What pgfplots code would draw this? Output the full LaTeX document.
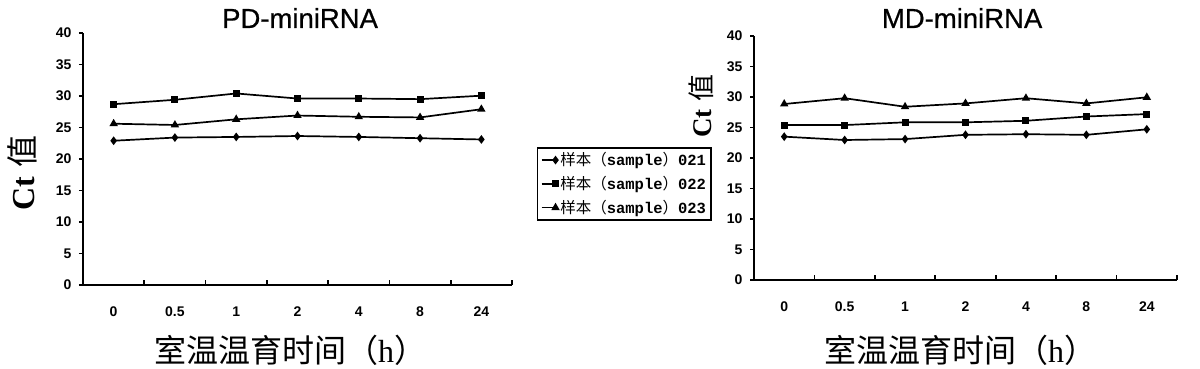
\documentclass[border=0pt]{standalone}
\usepackage{fontspec}
\usepackage{pgfplots}
\pgfplotsset{compat=1.18}
\setmainfont{Liberation Serif}
\setsansfont{Liberation Sans}
\setmonofont{Liberation Mono}
\newfontfamily\cjk{Noto Sans CJK SC}
\newfontfamily\titlefont{Liberation Sans}[FakeBold=0.6]
\begin{document}
\begin{tikzpicture}
\useasboundingbox (0pt,0pt) rectangle (1200pt,369pt);
\pgfplotsset{
  myaxis/.style={
    scale only axis,
    anchor=south west,
    xmin=0, xmax=7, ymin=0, ymax=40,
    axis x line=bottom, axis y line=left,
    axis line style={-, line width=1.8pt},
    xtick={0.5,1.5,...,6.5},
    xticklabels={0,0.5,1,2,4,8,24},
    minor xtick={1,2,...,7},
    ytick={0,5,...,40},
    major x tick style={draw=none},
    minor tick length=5pt,
    every minor tick/.style={line width=1.6pt, black},
    every major tick/.style={line width=1.6pt, black},
    major tick length=4pt,
    ytick align=outside,
    xtick align=inside,
    /pgf/number format/assume math mode=true,
    ticklabel style={font=\fontsize{14}{14}\selectfont\sffamily\bfseries},
    xticklabel style={yshift=-18pt},
    yticklabel style={xshift=-4pt},
    every axis plot/.append style={line width=1.7pt, black, mark options={solid}},
    legend image code/.code={\draw[##1,mark repeat=2,mark phase=2] plot coordinates {(0pt,0pt) (14pt,0pt)};},
  }
}
\begin{axis}[myaxis, at={(83pt,84pt)}, width=429pt, height=252pt,
  title={PD-miniRNA},
  title style={at={(axis description cs:0.506,1)}, anchor=center, yshift=9pt, font=\fontsize{27.5}{27.5}\selectfont\titlefont},
  xlabel={{\cjk 室温温育时间（}\textrm{h}{\cjk ）}},
  xlabel style={at={(axis description cs:0.483,0)}, anchor=center, inner sep=0pt, yshift=-65pt, font=\fontsize{32}{32}\selectfont},
  ylabel={\textbf{Ct}\hspace{0.3em}{\cjk 值}},
  ylabel style={at={(axis description cs:0,0.444)}, anchor=center, yshift=61pt, font=\fontsize{32}{32}\selectfont},
  legend style={at={(1.058,0.548)}, anchor=north west, draw=black, line width=1.6pt,
    font=\fontsize{15.5}{15.5}\selectfont, inner sep=3pt, row sep=5pt,
    cells={anchor=west}},
  legend cell align=left,
]
\addplot[mark=diamond*, mark size=3pt] coordinates {(0.5,22.9) (1.5,23.4) (2.5,23.5) (3.5,23.65) (4.5,23.5) (5.5,23.3) (6.5,23.1)};
\addplot[mark=square*, mark size=2.6pt] coordinates {(0.5,28.7) (1.5,29.4) (2.5,30.4) (3.5,29.6) (4.5,29.6) (5.5,29.5) (6.5,30.05)};
\addplot[mark=triangle*, mark size=3.2pt] coordinates {(0.5,25.6) (1.5,25.4) (2.5,26.3) (3.5,26.9) (4.5,26.7) (5.5,26.6) (6.5,27.9)};
\legend{{\cjk 样本（}\texttt{\bfseries sample}{\cjk ）}\texttt{\bfseries 021},
        {\cjk 样本（}\texttt{\bfseries sample}{\cjk ）}\texttt{\bfseries 022},
        {\cjk 样本（}\texttt{\bfseries sample}{\cjk ）}\texttt{\bfseries 023}}
\end{axis}
\begin{axis}[myaxis, at={(754pt,89pt)}, width=423pt, height=244pt,
  title={MD-miniRNA},
  title style={at={(axis description cs:0.492,1)}, anchor=center, yshift=12pt, font=\fontsize{27.5}{27.5}\selectfont\titlefont},
  xlabel={{\cjk 室温温育时间（}\textrm{h}{\cjk ）}},
  xlabel style={at={(axis description cs:0.487,0)}, anchor=center, inner sep=0pt, yshift=-70pt, font=\fontsize{32}{32}\selectfont},
  ylabel={\textbf{Ct}\hspace{0.3em}{\cjk 值}},
  ylabel style={at={(axis description cs:0,0.713)}, anchor=center, yshift=53pt, font=\fontsize{27}{27}\selectfont},
]
\addplot[mark=diamond*, mark size=3pt] coordinates {(0.5,23.5) (1.5,22.95) (2.5,23.1) (3.5,23.8) (4.5,23.9) (5.5,23.8) (6.5,24.7)};
\addplot[mark=square*, mark size=2.6pt] coordinates {(0.5,25.4) (1.5,25.4) (2.5,25.85) (3.5,25.85) (4.5,26.1) (5.5,26.8) (6.5,27.2)};
\addplot[mark=triangle*, mark size=3.2pt] coordinates {(0.5,28.85) (1.5,29.8) (2.5,28.4) (3.5,28.95) (4.5,29.8) (5.5,28.95) (6.5,29.95)};
\end{axis}
\end{tikzpicture}
\end{document}
